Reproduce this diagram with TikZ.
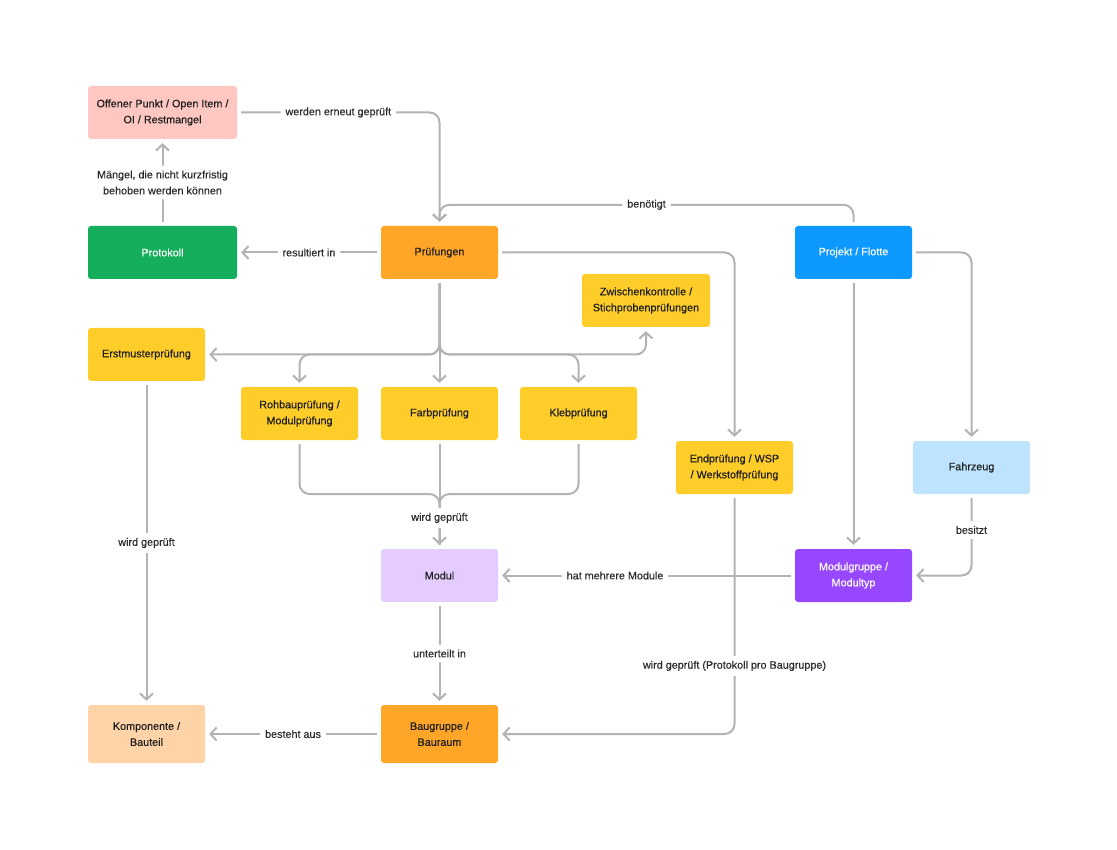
\documentclass[tikz,border=0pt]{standalone}
\usepackage{fontspec}
\setmainfont{Liberation Sans}
\newfontface\dface{Liberation Sans}[FakeBold=0.35]
\usetikzlibrary{arrows.meta,calc}
\definecolor{cpink}{HTML}{FFC7C2}
\definecolor{cgreen}{HTML}{14AE5C}
\definecolor{corange}{HTML}{FFA629}
\definecolor{cblue}{HTML}{0D99FF}
\definecolor{cyellow}{HTML}{FFCD29}
\definecolor{clblue}{HTML}{BDE3FF}
\definecolor{clav}{HTML}{E4CCFF}
\definecolor{cpurple}{HTML}{9747FF}
\definecolor{cpeach}{HTML}{FFD3A8}
\definecolor{cline}{HTML}{B3B3B3}
\definecolor{ctext}{HTML}{1E1E1E}
\definecolor{clbl}{HTML}{2C2C2C}
\tikzset{
  box/.style={draw=none, rounded corners=3pt, minimum width=117pt, minimum height=53pt,
    align=center, inner sep=2pt, text=ctext,
    font=\dface\fontsize{10.8}{16}\selectfont},
  conn/.style={draw=cline, line width=2pt, rounded corners=10pt,
    shorten <=4pt, shorten >=4pt},
  arr/.style={conn, -{Straight Barb[length=6pt,width=13pt,line width=2pt]}},
  lbl/.style={fill=white, text=clbl, inner sep=5pt, align=center,
    font=\dface\fontsize{10.8}{16}\selectfont}
}
\begin{document}
\begin{tikzpicture}[x=1pt,y=-1pt]
\useasboundingbox[fill=white] (0,0) rectangle (1117,850);
% nodes
\node[box, fill=cpink, minimum width=149pt] (off) at (162.5,112.5) {Offener Punkt / Open Item /\\OI / Restmangel};
\node[box, fill=cgreen, text=white, minimum width=149pt] (prot) at (162.5,252.5) {Protokoll};
\node[box, fill=corange] (pr) at (439.5,252.5) {Prüfungen};
\node[box, fill=cblue, text=white] (proj) at (853.5,252.5) {Projekt / Flotte};
\node[box, fill=cyellow, minimum width=128pt] (zw) at (646,300.5) {Zwischenkontrolle /\\Stichprobenprüfungen};
\node[box, fill=cyellow] (erst) at (146.5,354.5) {Erstmusterprüfung};
\node[box, fill=cyellow] (roh) at (299.5,413.5) {Rohbauprüfung /\\Modulprüfung};
\node[box, fill=cyellow] (farb) at (439.5,413.5) {Farbprüfung};
\node[box, fill=cyellow] (kleb) at (578.5,413.5) {Klebprüfung};
\node[box, fill=cyellow] (end) at (734.5,467.5) {Endprüfung / WSP\\/ Werkstoffprüfung};
\node[box, fill=clblue] (fahr) at (971.5,467.5) {Fahrzeug};
\node[box, fill=clav] (modul) at (439.5,575.5) {Modul};
\node[box, fill=cpurple, text=white] (mg) at (853.5,575.5) {Modulgruppe /\\Modultyp};
\node[box, fill=cpeach, minimum height=58pt] (komp) at (146.5,734) {Komponente /\\Bauteil};
\node[box, fill=corange, minimum height=58pt] (bg) at (439.5,734) {Baugruppe /\\Bauraum};
\coordinate (mrg) at (439.5,494);
% connectors
\draw[arr] (off.east) -- node[lbl]{werden erneut geprüft} (off.east -| pr.north) -- (pr.north);
\draw[arr] (prot.north) -- node[lbl]{Mängel, die nicht kurzfristig\\behoben werden können} (off.south);
\draw[arr] (pr.west) -- node[lbl]{resultiert in} (prot.east);
\draw[arr] (proj.north) |- node[lbl,pos=0.75]{benötigt} ([yshift=21pt]pr.north) -- (pr.north);
\draw[arr] (pr.east) -| (end.north);
\draw[arr] (proj.east) -| (fahr.north);
\draw[arr] (proj.south) -- (mg.north);
\draw[arr] (fahr.south) |- node[lbl,pos=0.22]{besitzt} (mg.east);
\draw[arr] (end.south) |- node[lbl,pos=0.358]{wird geprüft (Protokoll pro Baugruppe)} (bg.east);
\draw[arr] (mg.west) -- node[lbl,pos=0.606]{hat mehrere Module} (modul.east);
\draw[arr] (pr.south) |- (erst.east);
\draw[arr] (pr.south) |- (roh.north |- erst.east) -- (roh.north);
\draw[arr] (pr.south) |- (kleb.north |- erst.east) -- (kleb.north);
\draw[arr] (pr.south) |- (zw.south |- erst.east) -- (zw.south);
\draw[arr] (pr.south) -- (farb.north);
\draw[conn] (roh.south) |- (mrg) -- (modul.north);
\draw[conn] (kleb.south) |- (mrg) -- (modul.north);
\draw[arr] (farb.south) -- node[lbl,pos=0.716]{wird geprüft} (modul.north);
\draw[arr] (erst.south) -- node[lbl]{wird geprüft} (komp.north);
\draw[arr] (modul.south) -- node[lbl]{unterteilt in} (bg.north);
\draw[arr] (bg.west) -- node[lbl]{besteht aus} (komp.east);
\end{tikzpicture}
\end{document}
